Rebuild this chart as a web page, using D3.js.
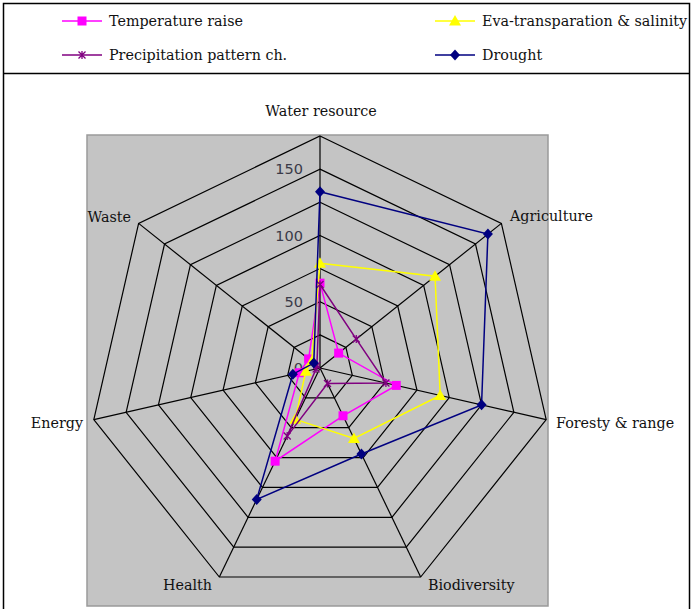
<!DOCTYPE html>
<html>
<head>
<meta charset="utf-8">
<script src="https://cdn.jsdelivr.net/npm/d3@7"></script>
<style>
  body { margin: 0; background: #fff; }
  text { font-family: "DejaVu Serif", serif; }
</style>
</head>
<body>
<div id="chart"></div>
<script>
// axis categories, clockwise from the top
const categories = ["Water resource", "Agriculture", "Foresty & range", "Biodiversity", "Health", "Energy", "Waste"];
const seriesNames = ["Temperature raise", "Eva-transparation & salinity", "Precipitation pattern ch.", "Drought"];
const temperatureRaise = [64, 18, 59, 40, 78, 16, 11];
const evaSalinity = [79, 111, 93, 59, 43, 11, 8];
const precipitation = [63, 35, 51, 13, 57, 3, 3];
const drought = [133, 162, 125, 72, 110, 21, 6];
const gridLevels = [25, 50, 75, 100, 125, 150, 175];
const tickLabels = [0, 50, 100, 150];

const width = 693, height = 609;
const cx = 320, cy = 368, radius = 232;

const svg = d3.select("#chart").append("svg")
    .attr("width", width)
    .attr("height", height);

const r = d3.scaleLinear().domain([0, 175]).range([0, radius]);
const angle = d3.scaleLinear().domain([0, categories.length]).range([0, 2 * Math.PI]);

function pt(i, v) {
    const a = angle(i);
    return [cx + Math.sin(a) * r(v), cy - Math.cos(a) * r(v)];
}

// outer frame + legend box
svg.append("rect").attr("x", 3.5).attr("y", 3.5).attr("width", 686).attr("height", 620)
    .attr("fill", "none").attr("stroke", "#000").attr("stroke-width", 1.5);
svg.append("line").attr("x1", 3).attr("x2", 690).attr("y1", 73.5).attr("y2", 73.5)
    .attr("stroke", "#000").attr("stroke-width", 1.5);

// plot area background
svg.append("rect").attr("x", 87).attr("y", 135).attr("width", 461).attr("height", 471)
    .attr("fill", "#c4c4c4").attr("stroke", "#9a9a9a").attr("stroke-width", 1.5);

// rings
const grid = svg.append("g").attr("fill", "none").attr("stroke", "#000").attr("stroke-width", 1.2);
gridLevels.forEach(lv => {
    grid.append("polygon")
        .attr("points", categories.map((c, i) => pt(i, lv).join(",")).join(" "));
});
categories.forEach((c, i) => {
    const p = pt(i, 175);
    grid.append("line").attr("x1", cx).attr("y1", cy).attr("x2", p[0]).attr("y2", p[1]);
});

// tick labels along the first axis
svg.append("g").selectAll("text")
    .data(tickLabels)
    .enter().append("text")
    .attr("x", cx - 17)
    .attr("y", d => cy - r(d))
    .attr("dy", "0.35em")
    .attr("text-anchor", "end")
    .style("font-family", "'DejaVu Sans', sans-serif")
    .style("font-size", "14.5px")
    .style("fill", "#3a3a48")
    .text(d => d);

// category labels
const labelPos = [
    { x: 321, y: 116, anchor: "middle" },
    { x: 510, y: 221, anchor: "start" },
    { x: 556, y: 428, anchor: "start" },
    { x: 428, y: 590, anchor: "start" },
    { x: 212, y: 590, anchor: "end" },
    { x: 83, y: 428, anchor: "end" },
    { x: 131, y: 222, anchor: "end" }
];
svg.append("g").selectAll("text")
    .data(categories)
    .enter().append("text")
    .attr("x", (d, i) => labelPos[i].x)
    .attr("y", (d, i) => labelPos[i].y)
    .attr("text-anchor", (d, i) => labelPos[i].anchor)
    .style("font-size", "14.3px")
    .style("fill", "#111")
    .text(d => d);

const colors = ["#ff00ff", "#ffff00", "#800080", "#000080"];
const seriesData = [temperatureRaise, evaSalinity, precipitation, drought];

function drawMarker(g, k, x, y) {
    const col = colors[k];
    if (k === 0) {
        g.append("rect").attr("x", x - 4.5).attr("y", y - 4.5).attr("width", 9).attr("height", 9).attr("fill", col);
    } else if (k === 1) {
        g.append("path").attr("d", `M${x},${y - 6} L${x + 6},${y + 4.5} L${x - 6},${y + 4.5} Z`).attr("fill", col);
    } else if (k === 2) {
        g.append("path")
            .attr("d", `M${x - 3.5},${y - 3.5} L${x + 3.5},${y + 3.5} M${x + 3.5},${y - 3.5} L${x - 3.5},${y + 3.5} M${x},${y - 4} L${x},${y + 4}`)
            .attr("stroke", col).attr("stroke-width", 1.3).attr("fill", "none");
    } else {
        g.append("path").attr("d", `M${x},${y - 5.5} L${x + 5},${y} L${x},${y + 5.5} L${x - 5},${y} Z`).attr("fill", col);
    }
}

// series
seriesData.forEach((vals, k) => {
    const g = svg.append("g");
    const pts = vals.map((v, i) => pt(i, v));
    g.append("path")
        .attr("d", d3.line().curve(d3.curveLinearClosed)(pts))
        .attr("fill", "none")
        .attr("stroke", colors[k])
        .attr("stroke-width", 1.5);
    pts.forEach(p => drawMarker(g, k, p[0], p[1]));
});

// legend
const legendPos = [
    { x: 62, y: 21 }, { x: 435, y: 21 }, { x: 62, y: 55 }, { x: 435, y: 55 }
];
seriesNames.forEach((name, k) => {
    const g = svg.append("g");
    const lp = legendPos[k];
    g.append("line").attr("x1", lp.x).attr("x2", lp.x + 40).attr("y1", lp.y).attr("y2", lp.y)
        .attr("stroke", colors[k]).attr("stroke-width", 1.5);
    drawMarker(g, k, lp.x + 20, lp.y);
    g.append("text").attr("x", lp.x + 47).attr("y", lp.y + 5)
        .style("font-size", "14.3px").style("fill", "#111").text(name);
});
</script>
</body>
</html>
